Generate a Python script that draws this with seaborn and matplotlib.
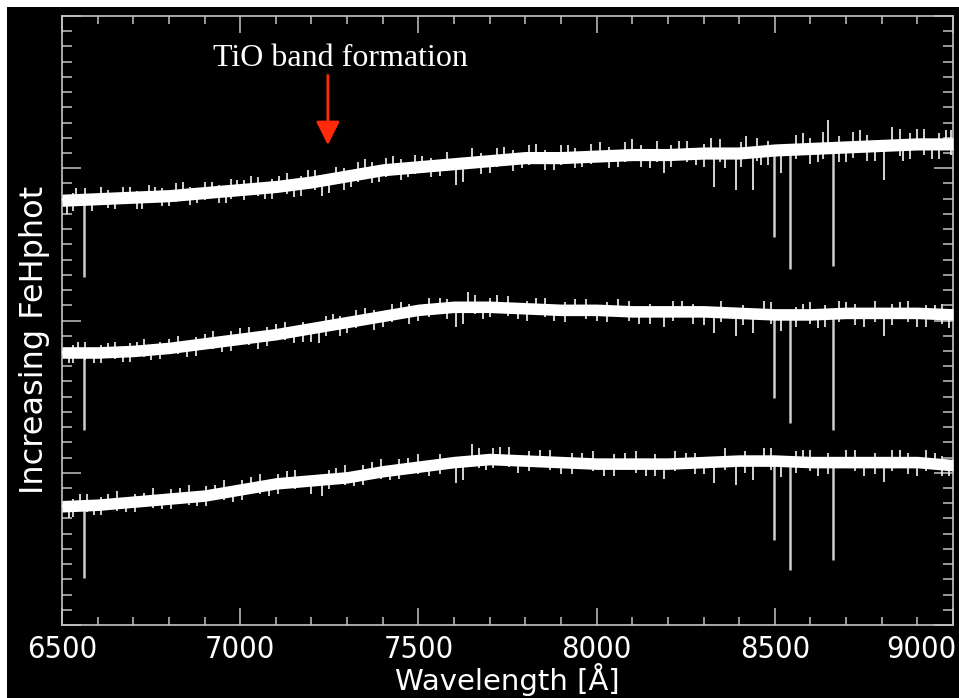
import matplotlib
matplotlib.use("Agg")
import matplotlib.pyplot as plt
from matplotlib.patches import Rectangle
from matplotlib.ticker import MultipleLocator, NullFormatter
from matplotlib.transforms import ScaledTranslation
import numpy as np
import pandas as pd
import seaborn as sns

# continuum grid (Angstrom)
wave = [6500, 6600, 6700, 6800, 6900, 7000, 7100, 7200, 7300, 7400, 7500, 7600, 7700,
        7800, 7900, 8000, 8100, 8200, 8300, 8400, 8500, 8600, 8700, 8800, 8900, 9000]

# continuum of each spectrum (offset flux units, top / middle / bottom)
flux_top = [2.79, 2.80, 2.81, 2.82, 2.84, 2.86, 2.88, 2.91, 2.95, 2.99, 3.01, 3.03, 3.05,
            3.07, 3.07, 3.08, 3.09, 3.09, 3.10, 3.10, 3.12, 3.13, 3.14, 3.15, 3.16, 3.16]
flux_mid = [1.79, 1.79, 1.80, 1.82, 1.85, 1.88, 1.91, 1.95, 1.99, 2.03, 2.07, 2.09, 2.09,
            2.08, 2.07, 2.07, 2.06, 2.06, 2.06, 2.05, 2.04, 2.04, 2.05, 2.05, 2.05, 2.04]
flux_low = [0.78, 0.79, 0.81, 0.83, 0.85, 0.89, 0.93, 0.95, 0.97, 1.01, 1.04, 1.07, 1.09,
            1.08, 1.07, 1.06, 1.06, 1.06, 1.07, 1.08, 1.08, 1.07, 1.07, 1.07, 1.07, 1.05]

# half thickness of the solid noise band
band_half = [0.04, 0.038, 0.038]

# strong absorption lines (H-alpha + Ca II triplet): wavelength, bottom, top
line_wave = [6563, 8498, 8542, 8662]
line_lo_top = [2.285, 2.548, 2.337, 2.357]
line_hi_top = [2.80, 3.12, 3.125, 3.135]
line_lo_mid = [1.28, 1.49, 1.326, 1.28]
line_hi_mid = [1.79, 2.04, 2.04, 2.045]
line_lo_low = [0.31, 0.558, 0.361, 0.427]
line_hi_low = [0.785, 1.08, 1.075, 1.07]

# noise spikes and weak dips: wavelength, low end, high end
spk_top_x = [6515, 6540, 6585, 6610, 6650, 6690, 6725, 6760, 6800, 6840, 6880, 6920, 6960, 6990,
             7030, 7070, 7110, 7150, 7190, 7230, 7250, 7270, 7310, 7350, 7390, 7430, 7470,
             7510, 7560, 7605, 7625, 7650, 7700, 7740, 7790, 7830, 7880, 7920, 7960,
             8010, 8060, 8100, 8150, 8190, 8230, 8280, 8320, 8330, 8360, 8391, 8420, 8439, 8460,
             8516, 8580, 8620, 8650, 8700, 8740, 8780, 8806, 8830, 8860, 8900, 8940, 8980]
spk_top_lo = [2.70, 2.79, 2.72, 2.80, 2.73, 2.81, 2.73, 2.82, 2.75, 2.83, 2.77, 2.84, 2.77, 2.86,
              2.87, 2.80, 2.88, 2.81, 2.91, 2.82, 2.84, 2.94, 2.88, 2.97, 2.91, 3.00, 2.94,
              3.01, 2.95, 2.89, 2.91, 3.04, 2.97, 3.06, 3.00, 3.07, 2.99, 3.07, 3.01,
              3.08, 3.01, 3.09, 3.00, 2.97, 3.09, 3.02, 3.10, 2.88, 3.00, 2.86, 3.10, 2.86, 3.02,
              2.97, 3.13, 3.04, 3.14, 3.04, 3.14, 3.05, 2.92, 3.15, 3.05, 3.16, 3.06, 3.16]
spk_top_hi = [2.79, 2.87, 2.80, 2.88, 2.80, 2.88, 2.81, 2.88, 2.82, 2.91, 2.84, 2.91, 2.85, 2.92,
              2.95, 2.87, 2.95, 2.90, 2.99, 2.92, 2.93, 3.01, 2.95, 3.06, 2.99, 3.08, 3.00,
              3.08, 3.02, 3.03, 3.04, 3.13, 3.05, 3.14, 3.07, 3.16, 3.07, 3.15, 3.08,
              3.17, 3.09, 3.19, 3.09, 3.09, 3.18, 3.10, 3.20, 3.10, 3.10, 3.10, 3.21, 3.11, 3.11,
              3.12, 3.23, 3.13, 3.32, 3.14, 3.25, 3.15, 3.15, 3.27, 3.16, 3.26, 3.16, 3.25]

spk_mid_x = [6520, 6545, 6590, 6630, 6670, 6710, 6750, 6800, 6850, 6900, 6950, 7000, 7050,
             7100, 7150, 7200, 7220, 7260, 7300, 7350, 7400, 7450, 7500, 7560, 7605, 7625,
             7640, 7680, 7720, 7780, 7830, 7880, 7940, 8000, 8060, 8120, 8190, 8240, 8300,
             8330, 8391, 8440, 8470, 8516, 8580, 8620, 8700, 8750, 8806, 8850, 8900, 8950, 8990]
spk_mid_lo = [1.72, 1.79, 1.72, 1.79, 1.73, 1.80, 1.74, 1.82, 1.76, 1.85, 1.79, 1.88, 1.81,
              1.91, 1.85, 1.86, 1.85, 1.97, 1.92, 2.01, 1.96, 2.05, 2.00, 2.08, 1.96, 1.98,
              2.09, 2.01, 2.09, 2.01, 2.08, 2.00, 2.07, 2.00, 2.07, 1.98, 1.96, 2.06, 1.97,
              1.92, 1.90, 1.92, 2.05, 1.93, 2.04, 1.95, 2.05, 1.96, 1.90, 2.05, 1.96, 2.04, 1.95]
spk_mid_hi = [1.79, 1.86, 1.79, 1.85, 1.80, 1.86, 1.81, 1.88, 1.83, 1.91, 1.86, 1.95, 1.89,
              1.98, 1.93, 1.95, 1.96, 2.04, 1.99, 2.08, 2.03, 2.12, 2.07, 2.15, 2.09, 2.09,
              2.19, 2.10, 2.17, 2.08, 2.15, 2.07, 2.14, 2.07, 2.14, 2.06, 2.06, 2.13, 2.06,
              2.06, 2.05, 2.05, 2.13, 2.04, 2.11, 2.04, 2.12, 2.05, 2.05, 2.12, 2.05, 2.10, 2.03]

spk_low_x = [6520, 6550, 6590, 6630, 6680, 6730, 6780, 6830, 6880, 6930, 6980, 7030, 7080,
             7130, 7200, 7230, 7270, 7320, 7370, 7420, 7470, 7530, 7605, 7625, 7650, 7690,
             7730, 7780, 7840, 7900, 7960, 8020, 8080, 8140, 8190, 8250, 8300, 8330, 8391,
             8440, 8470, 8516, 8580, 8620, 8700, 8750, 8806, 8850, 8900, 8950, 8990]
spk_low_lo = [0.70, 0.78, 0.72, 0.79, 0.74, 0.81, 0.76, 0.83, 0.78, 0.86, 0.81, 0.90, 0.85,
              0.94, 0.86, 0.85, 0.96, 0.91, 1.00, 0.95, 1.03, 0.98, 0.93, 0.95, 1.08, 1.02,
              1.09, 1.00, 1.07, 0.99, 1.06, 0.98, 1.06, 0.98, 0.96, 1.06, 0.99, 0.93, 0.92,
              0.95, 1.08, 0.97, 1.07, 0.98, 1.07, 0.98, 0.94, 1.07, 0.98, 1.06, 0.98]
spk_low_hi = [0.78, 0.86, 0.79, 0.86, 0.81, 0.87, 0.83, 0.90, 0.85, 0.92, 0.88, 0.97, 0.92,
              1.01, 0.95, 0.95, 1.03, 0.98, 1.07, 1.02, 1.10, 1.05, 1.07, 1.08, 1.19, 1.10,
              1.17, 1.08, 1.15, 1.07, 1.13, 1.06, 1.13, 1.06, 1.06, 1.13, 1.07, 1.07, 1.08,
              1.08, 1.16, 1.08, 1.15, 1.07, 1.15, 1.07, 1.07, 1.15, 1.07, 1.13, 1.05]

# short fuzz crossing the band: wavelength, low end, high end
fuzz_top_x = [6530, 6565, 6630, 6670, 6710, 6745, 6780, 6820, 6860, 6900, 6940, 6975, 7010,
              7050, 7090, 7130, 7170, 7210, 7290, 7330, 7370, 7410, 7450, 7490, 7535, 7580,
              7675, 7720, 7765, 7810, 7855, 7900, 7940, 7985, 8035, 8080, 8125, 8170, 8210,
              8255, 8300, 8345, 8405, 8450, 8480, 8560, 8600, 8635, 8680, 8720, 8760, 8850,
              8880, 8920, 8960, 8995]
fuzz_top_lo = [2.72, 2.76, 2.74, 2.77, 2.73, 2.77, 2.75, 2.78, 2.76, 2.79, 2.77, 2.80, 2.79,
               2.82, 2.80, 2.83, 2.82, 2.86, 2.86, 2.91, 2.90, 2.94, 2.92, 2.96, 2.94, 2.98,
               2.96, 3.01, 2.98, 3.02, 2.99, 3.02, 3.00, 3.03, 3.00, 3.04, 3.01, 3.04, 3.01,
               3.04, 3.01, 3.04, 3.01, 3.05, 3.02, 3.06, 3.03, 3.06, 3.04, 3.07, 3.05, 3.08,
               3.06, 3.09, 3.06, 3.09]
fuzz_top_hi = [2.84, 2.87, 2.86, 2.88, 2.85, 2.89, 2.87, 2.90, 2.88, 2.91, 2.89, 2.93, 2.92,
               2.94, 2.93, 2.97, 2.95, 2.99, 3.00, 3.04, 3.04, 3.07, 3.06, 3.09, 3.07, 3.11,
               3.10, 3.13, 3.12, 3.15, 3.12, 3.15, 3.13, 3.16, 3.14, 3.17, 3.15, 3.18, 3.15,
               3.18, 3.16, 3.19, 3.17, 3.20, 3.18, 3.22, 3.20, 3.24, 3.21, 3.24, 3.22, 3.26,
               3.23, 3.26, 3.23, 3.25]

fuzz_mid_x = [6530, 6565, 6610, 6650, 6690, 6730, 6775, 6825, 6875, 6925, 6975, 7025, 7075,
              7125, 7175, 7240, 7280, 7325, 7375, 7425, 7475, 7530, 7580, 7660, 7700, 7750,
              7805, 7855, 7910, 7970, 8030, 8090, 8150, 8215, 8270, 8350, 8410, 8490, 8560,
              8600, 8640, 8680, 8725, 8780, 8830, 8875, 8925, 8970]
fuzz_mid_lo = [1.72, 1.74, 1.72, 1.75, 1.73, 1.76, 1.75, 1.78, 1.77, 1.81, 1.80, 1.84, 1.83,
               1.87, 1.86, 1.90, 1.90, 1.95, 1.94, 1.99, 1.98, 2.02, 2.01, 2.04, 2.02, 2.03,
               2.00, 2.02, 1.99, 2.01, 1.99, 2.00, 1.98, 2.00, 1.98, 1.99, 1.97, 1.98, 1.96,
               1.98, 1.96, 1.99, 1.97, 1.99, 1.97, 1.99, 1.96, 1.98]
fuzz_mid_hi = [1.84, 1.86, 1.84, 1.86, 1.85, 1.88, 1.86, 1.90, 1.89, 1.93, 1.93, 1.96, 1.96,
               1.99, 1.99, 2.03, 2.03, 2.07, 2.07, 2.11, 2.11, 2.15, 2.14, 2.17, 2.15, 2.16,
               2.13, 2.15, 2.12, 2.14, 2.12, 2.13, 2.11, 2.13, 2.11, 2.13, 2.10, 2.12, 2.09,
               2.12, 2.10, 2.13, 2.11, 2.13, 2.11, 2.13, 2.10, 2.11]

fuzz_low_x = [6530, 6570, 6610, 6655, 6705, 6755, 6805, 6855, 6905, 6955, 7005, 7055, 7105,
              7155, 7250, 7295, 7345, 7395, 7445, 7500, 7560, 7670, 7710, 7755, 7810, 7870,
              7930, 7990, 8050, 8110, 8165, 8220, 8275, 8360, 8415, 8490, 8560, 8600, 8650,
              8725, 8780, 8830, 8875, 8925, 8970]
fuzz_low_lo = [0.71, 0.74, 0.72, 0.75, 0.74, 0.77, 0.76, 0.79, 0.78, 0.82, 0.82, 0.86, 0.86,
               0.89, 0.89, 0.92, 0.92, 0.96, 0.96, 0.99, 0.99, 1.03, 1.03, 1.04, 1.01, 1.02,
               0.99, 1.01, 0.98, 1.00, 0.98, 1.01, 0.99, 1.02, 1.00, 1.02, 1.00, 1.01, 0.99,
               1.01, 0.99, 1.01, 0.99, 1.01, 0.98]
fuzz_low_hi = [0.83, 0.86, 0.84, 0.88, 0.86, 0.90, 0.89, 0.92, 0.91, 0.95, 0.95, 0.99, 0.99,
               1.02, 1.02, 1.05, 1.05, 1.09, 1.09, 1.12, 1.12, 1.16, 1.16, 1.17, 1.14, 1.15,
               1.13, 1.14, 1.12, 1.14, 1.12, 1.14, 1.13, 1.16, 1.14, 1.16, 1.14, 1.15, 1.13,
               1.15, 1.13, 1.15, 1.13, 1.15, 1.11]

x_ticks = [6500, 7000, 7500, 8000, 8500, 9000]

# annotation
label_text = "TiO band formation"
arrow_x = 7246
arrow_from = 3.61
arrow_to = 3.152
text_x = 7280
text_y = 3.67


sns.set_theme(style="ticks", rc={
    "axes.facecolor": "black",
    "axes.edgecolor": "#c4c4c4",
    "axes.linewidth": 1.2,
    "xtick.color": "#c4c4c4",
    "ytick.color": "#c4c4c4",
    "axes.labelcolor": "white",
})
plt.rcParams["font.family"] = ["DejaVu Sans"]

fig = plt.figure(figsize=(9.59, 6.98), dpi=100, facecolor="white")
# black canvas with a thin white strip on top/left as in the screenshot
fig.patches.append(Rectangle((7 / 959, 0), 1, 691 / 698, transform=fig.transFigure,
                             facecolor="black", edgecolor="none", zorder=-10))
ax = fig.add_axes([62 / 959, 73 / 698, 891 / 959, 609 / 698])

spectra = [
    (flux_top, band_half[0], line_lo_top, line_hi_top, spk_top_x, spk_top_lo, spk_top_hi,
     fuzz_top_x, fuzz_top_lo, fuzz_top_hi),
    (flux_mid, band_half[1], line_lo_mid, line_hi_mid, spk_mid_x, spk_mid_lo, spk_mid_hi,
     fuzz_mid_x, fuzz_mid_lo, fuzz_mid_hi),
    (flux_low, band_half[2], line_lo_low, line_hi_low, spk_low_x, spk_low_lo, spk_low_hi,
     fuzz_low_x, fuzz_low_lo, fuzz_low_hi),
]
for flux, half, llo, lhi, sx, slo, shi, fx, flo, fhi in spectra:
    f = np.array(flux)
    ax.fill_between(wave, f - half, f + half, color="white", lw=0, zorder=3)
    df = pd.DataFrame({"wave": wave, "flux": flux})
    sns.lineplot(data=df, x="wave", y="flux", color="white", lw=2, ax=ax, zorder=4)
    ax.vlines(line_wave, llo, lhi, color="#cdcdcd", lw=1.8, zorder=2)
    ax.vlines(sx, slo, shi, color="#e6e6e6", lw=1.3, zorder=2)
    ax.vlines(fx, flo, fhi, color="#f2f2f2", lw=1.2, zorder=2)

ax.set_xlim(6500, 9000)
ax.set_ylim(0, 4)
ax.set_xticks(x_ticks)
ax.xaxis.set_minor_locator(MultipleLocator(100))
ax.yaxis.set_major_locator(MultipleLocator(1))
ax.yaxis.set_minor_locator(MultipleLocator(0.1))
ax.yaxis.set_major_formatter(NullFormatter())
ax.tick_params(axis="x", which="major", direction="in", length=12, width=1.1,
               top=True, bottom=True, labelsize=22, pad=7, labelcolor="white")
ax.tick_params(axis="x", which="minor", direction="in", length=6, width=1.1,
               top=True, bottom=True)
ax.tick_params(axis="y", which="major", direction="in", length=14, width=1.1,
               left=True, right=True)
ax.tick_params(axis="y", which="minor", direction="in", length=7.5, width=1.1,
               left=True, right=True)
for lab in ax.get_xticklabels():
    lab.set_fontstretch("condensed")
# the last label sits flush against the right edge of the canvas
last = ax.xaxis.get_major_ticks()[-1].label1
last.set_horizontalalignment("right")
last.set_transform(last.get_transform() + ScaledTranslation(0.03, 0, fig.dpi_scale_trans))

ax.set_xlabel("Wavelength [Å]", fontsize=21, color="white")
ax.xaxis.set_label_coords(0.5, -0.063)
ax.set_ylabel("Increasing FeHphot", fontsize=23, color="white")
ax.yaxis.set_label_coords(-0.014, 0.468)

ax.annotate("", xy=(arrow_x, arrow_to), xytext=(arrow_x, arrow_from),
            arrowprops=dict(arrowstyle="-|>,head_length=0.6,head_width=0.3",
                            mutation_scale=24, color="#ff2a0a", lw=2,
                            shrinkA=0, shrinkB=0), zorder=6)
ax.text(text_x, text_y, label_text, ha="center", va="baseline", color="white",
        fontsize=23, family=["Liberation Serif", "DejaVu Serif"], zorder=6)

fig.savefig("out.png", dpi=100, facecolor=fig.get_facecolor())
